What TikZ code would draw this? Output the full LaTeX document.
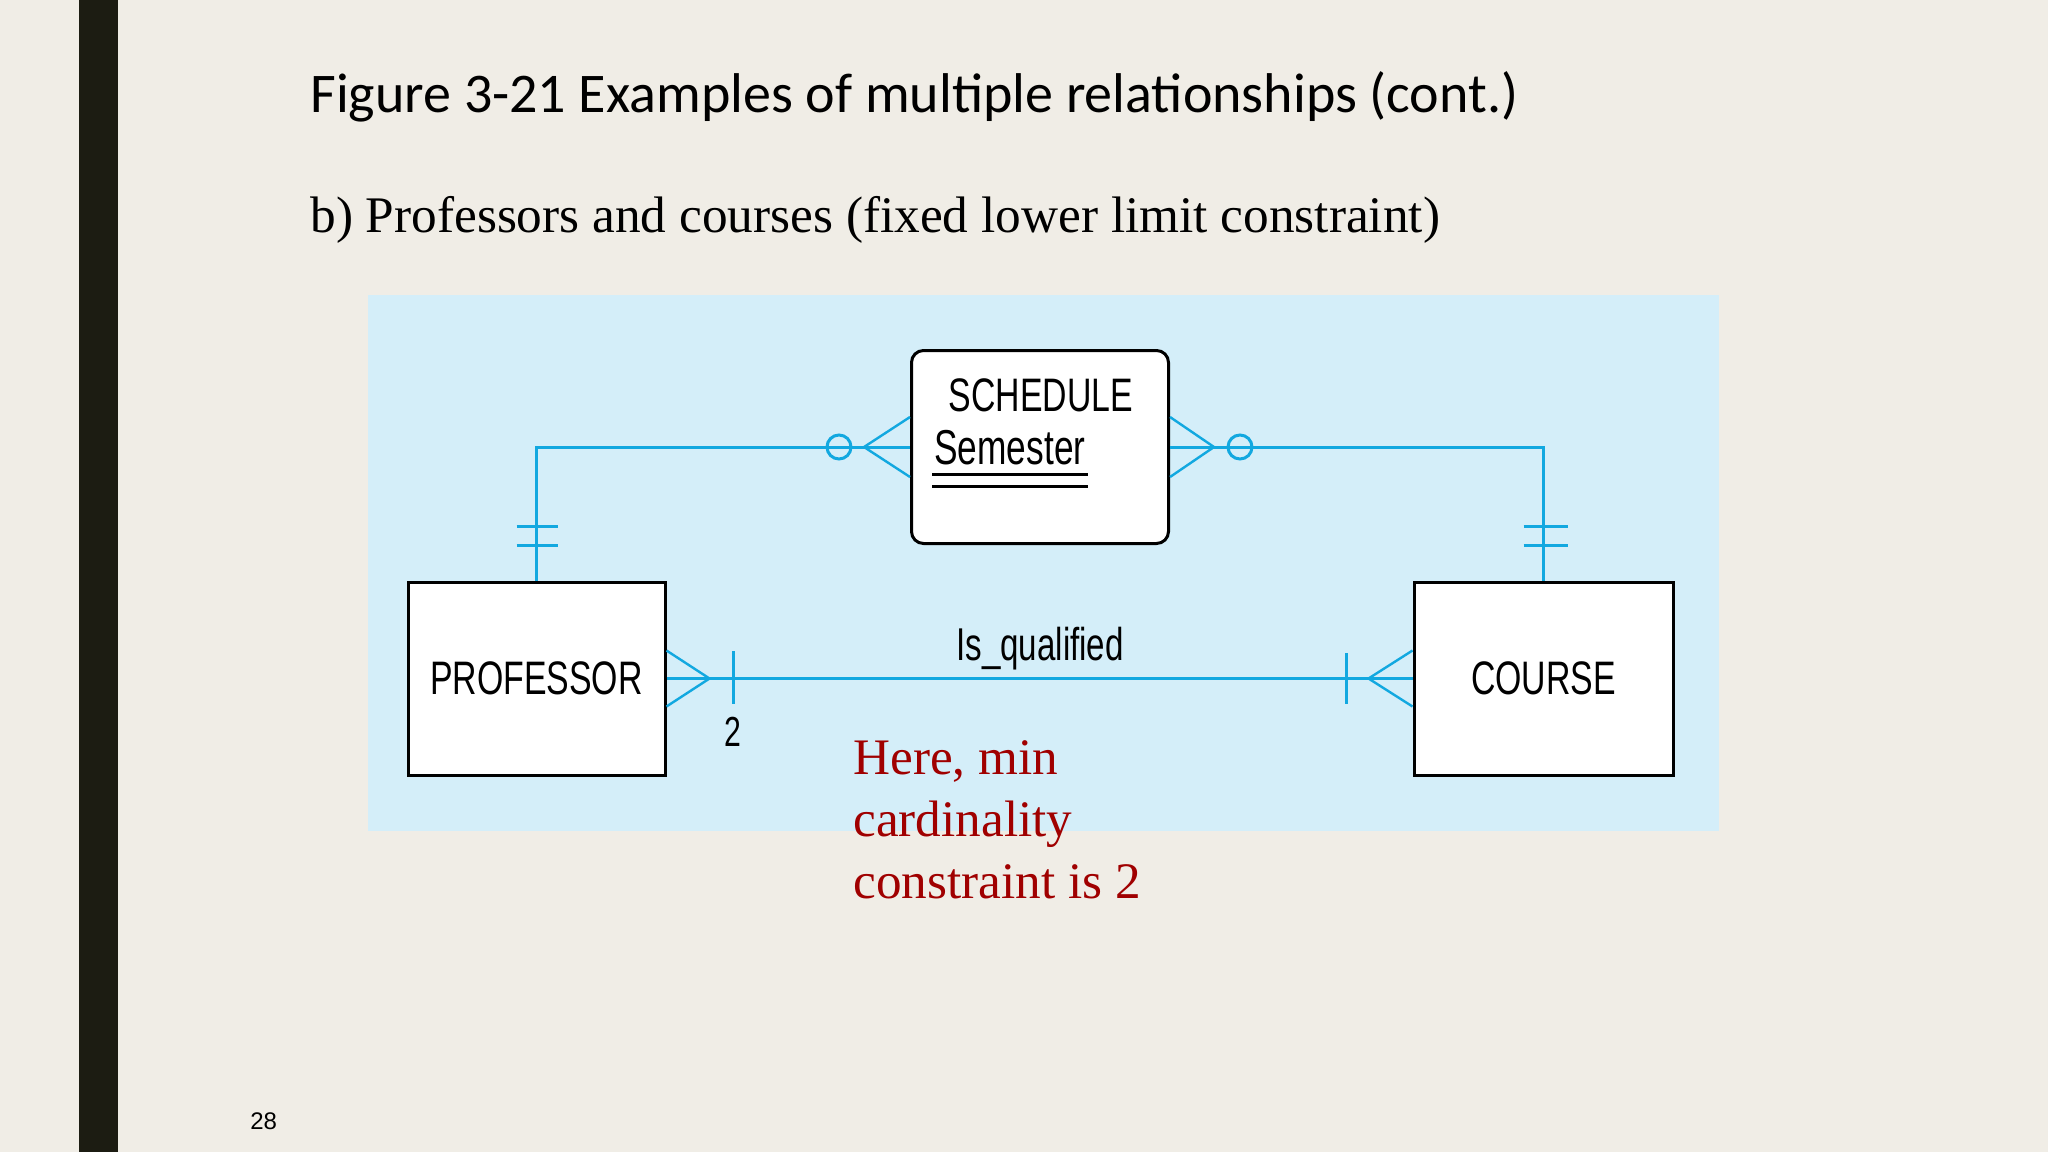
\documentclass[tikz,border=0pt]{standalone}
\usepackage{fontspec}
\setmainfont{Liberation Serif}
\newfontfamily\slidefont{Carlito}
\newfontfamily\erfont[FakeStretch=0.72]{Liberation Sans}
\newfontfamily\pagefont{Liberation Sans}
\definecolor{Paper}{HTML}{F0EDE6}
\definecolor{Bar}{HTML}{1C1C12}
\definecolor{Panel}{HTML}{D4EEF9}
\definecolor{Link}{HTML}{12A8E0}
\definecolor{Note}{HTML}{A00000}

\begin{document}
\begin{tikzpicture}[x=0.5pt, y=-0.5pt, every node/.style={inner sep=0pt}]
    \tikzstyle{entity}=[draw=black, line width=1.5pt, fill=white, minimum width=128.5pt, minimum height=96.5pt, font=\erfont\fontsize{23.5}{26}\selectfont]
    \tikzstyle{link}=[draw=Link, line width=1.5pt]
    \tikzstyle{crow}=[draw=Link, line width=1.2pt]
    \fill[Paper] (0,0) rectangle (2048,1152);
    \useasboundingbox (0,0) rectangle (2048,1152);
    \fill[Bar] (79,0) rectangle (118,1152);
    \fill[Panel] (368,295) rectangle (1719,831);
    \node[anchor=base west, font=\slidefont\fontsize{28}{32}\selectfont] (title) at (310,112) {Figure 3-21 Examples of multiple relationships (cont.)};
    \node[anchor=base west, font=\fontsize{25.65}{30}\selectfont] (subtitle) at (310,232) {b) Professors and courses (fixed lower limit constraint)};
    \node[entity, rounded corners=6pt] (schedule) at (1040,447) {};
    \node[entity] (professor) at (536.5,678.5) {PROFESSOR};
    \node[entity, minimum width=129.5pt] (course) at (1543.5,678.5) {COURSE};
    \node[anchor=base, font=\erfont\fontsize{23.5}{26}\selectfont] (schedname) at (1041,411) {SCHEDULE};
    \node[anchor=base west, font=\erfont\fontsize{24.5}{26}\selectfont] (semester) at (934,464) {Semester};
    \draw[line width=1.5pt] (932,474) -- (1088,474);
    \draw[line width=1.5pt] (932,486) -- (1088,486);
    \draw[link] (professor.north) |- (schedule.west);
    \draw[link] (schedule.east) -| (course.north);
    \draw[link] (professor.east) -- (course.west);
    \draw[link] ([xshift=-10pt,yshift=27pt]professor.north) -- +(41,0);
    \draw[link] ([xshift=-10pt,yshift=17.5pt]professor.north) -- +(41,0);
    \draw[link] ([xshift=-10pt,yshift=27pt]course.north) -- +(44,0);
    \draw[link] ([xshift=-10pt,yshift=17.5pt]course.north) -- +(44,0);
    \draw[crow] ([yshift=15pt]schedule.west) -- ++(-46,30) -- ([yshift=-15pt]schedule.west);
    \draw[crow] ([yshift=15pt]schedule.east) -- ++(44,30) -- ([yshift=-15pt]schedule.east);
    \draw[link] (839,447) circle[radius=6pt];
    \draw[link] (1240,447) circle[radius=6pt];
    \draw[crow] ([yshift=14pt]professor.east) -- ++(43,28) -- ([yshift=-14pt]professor.east);
    \draw[crow] ([yshift=14pt]course.west) -- ++(-44,28) -- ([yshift=-14pt]course.west);
    \draw[link] (733,651) -- (733,704);
    \draw[link] (1346,653) -- (1346,704);
    \node[font=\erfont\fontsize{21}{24}\selectfont] (mincard) at (733,732) {2};
    \node[anchor=base, font=\erfont\fontsize{23}{26}\selectfont] (relname) at (1040,660) {Is\_qualified};
    \node[anchor=base west, align=left, text=Note, font=\fontsize{25.6}{31}\selectfont] (note) at (853,898) {Here, min\\cardinality\\constraint is 2};
    \node[anchor=base west, font=\pagefont\fontsize{12}{14}\selectfont] (page) at (250,1129) {28};
  \end{tikzpicture}
\end{document}
